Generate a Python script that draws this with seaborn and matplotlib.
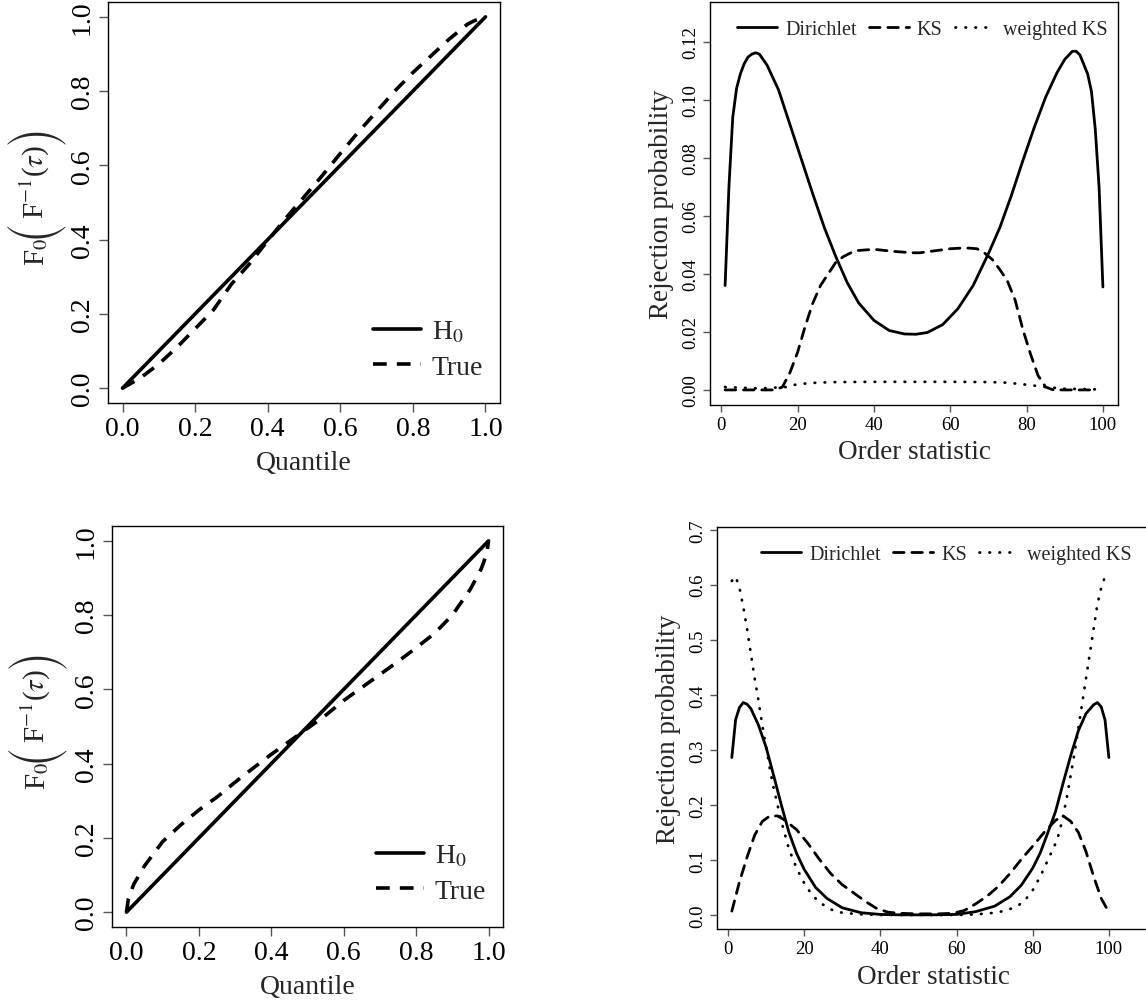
import matplotlib
matplotlib.use('Agg')
import numpy as np
import matplotlib.pyplot as plt
import seaborn as sns
from matplotlib.lines import Line2D

# ---- left column: F0(F^-1(tau)) against the quantile ----
h0_quantile = [0.0, 1.0]
h0_value = [0.0, 1.0]

quantile_top = [0, .05, .1, .15, .2, .25, .3, .35, .4, .45, .5, .55, .6, .65,
                .7, .75, .8, .85, .9, .95, .97, 1.0]
true_top = [0, .028, .065, .11, .16, .21, .28, .335, .397, .458, .515, .572,
            .632, .69, .745, .80, .85, .895, .94, .98, .99, 1.0]

quantile_bottom = [0, .005, .02, .05, .1, .15, .2, .25, .3, .35, .4, .45, .5,
                   .55, .6, .65, .7, .75, .8, .85, .9, .95, .98, .995, 1.0]
true_bottom = [0, .035, .075, .125, .19, .235, .275, .31, .35, .388, .425,
               .46, .495, .53, .57, .605, .64, .675, .712, .75, .8, .87,
               .925, .965, 1.0]

# ---- right column: rejection probability by order statistic ----
dir_x_top = [1, 2, 3, 4, 5, 6, 7, 8, 9, 10, 12, 15, 18, 21, 24, 27, 30, 33, 36,
             40, 44, 48, 51, 54, 58, 62, 66, 70, 73, 76, 79, 82, 85, 88, 90,
             92, 93, 94, 96, 97, 98, 99, 100]
dir_top = [0.036, 0.070, 0.094, 0.104, 0.109, 0.1125, 0.1148, 0.1158, 0.1163,
           0.1158, 0.1120, 0.1035, 0.0915, 0.0795, 0.0675, 0.0560, 0.0460,
           0.0370, 0.0300, 0.0240, 0.0205, 0.0193, 0.0192, 0.0198, 0.0225,
           0.0280, 0.0360, 0.0470, 0.0560, 0.0670, 0.0790, 0.0905, 0.1010,
           0.1095, 0.1140, 0.1168, 0.1168, 0.1155, 0.1090, 0.1030, 0.0900,
           0.0700, 0.0355]

ks_x_top = [1, 5, 10, 14, 16, 18, 20, 22, 24, 26, 28, 30, 32, 35, 40, 45, 50,
            52, 56, 60, 64, 67, 69, 71, 73, 75, 77, 79, 81, 83, 85, 87, 90,
            95, 98]
ks_top = [0, 0, 0, 0, 0.001, 0.006, 0.013, 0.022, 0.030, 0.036, 0.040, 0.044,
          0.046, 0.048, 0.0485, 0.0478, 0.0473, 0.0473, 0.048, 0.0487, 0.049,
          0.0487, 0.0472, 0.045, 0.0415, 0.0375, 0.031, 0.021, 0.0125, 0.005,
          0.001, 0, 0, 0, 0]

wks_x_top = [1, 10, 17, 20, 25, 30, 40, 50, 60, 70, 75, 80, 85, 90, 98]
wks_top = [0.001, 0.0005, 0.001, 0.002, 0.0025, 0.0027, 0.0028, 0.0028,
           0.0028, 0.0027, 0.0025, 0.0018, 0.001, 0.0004, 0.0002]

dir_x_bottom = [1, 2, 3, 4, 5, 6, 8, 10, 12, 14, 16, 18, 20, 23, 26, 30, 35,
                40, 45, 50, 55, 60, 65, 70, 74, 77, 80, 82, 84, 86, 88, 90, 92,
                94, 96, 97, 98, 99, 100]
dir_bottom = [0.286, 0.355, 0.377, 0.386, 0.383, 0.375, 0.345, 0.305, 0.253,
              0.200, 0.150, 0.112, 0.083, 0.050, 0.030, 0.013, 0.004, 0.001,
              0.0003, 0.0002, 0.0003, 0.001, 0.006, 0.016, 0.033, 0.054,
              0.085, 0.113, 0.150, 0.188, 0.240, 0.290, 0.335, 0.366, 0.382,
              0.386, 0.378, 0.354, 0.286]

ks_x_bottom = [1, 3, 5, 7, 9, 11, 13, 15, 18, 21, 24, 27, 30, 33, 36, 39, 42,
               45, 50, 55, 59, 62, 65, 68, 71, 74, 77, 80, 83, 86, 88, 90, 92,
               94, 96, 98, 100]
ks_bottom = [0.007, 0.06, 0.105, 0.145, 0.170, 0.180, 0.180, 0.172, 0.155,
             0.130, 0.101, 0.075, 0.055, 0.040, 0.025, 0.012, 0.005, 0.003,
             0.002, 0.002, 0.003, 0.008, 0.02, 0.034, 0.052, 0.075, 0.101,
             0.125, 0.150, 0.172, 0.180, 0.170, 0.150, 0.115, 0.070, 0.030,
             0.005]

wks_x_bottom = [1, 2, 3, 4, 5, 6, 7, 8, 9, 10, 11, 12, 13, 14, 16, 18, 20, 22,
                24, 27, 30, 35, 40, 50, 60, 65, 70, 73, 76, 78, 80, 82, 84, 86,
                87, 88, 89, 90, 91, 92, 93, 94, 95, 96, 97, 98, 99]
wks_bottom = [0.607, 0.615, 0.595, 0.56, 0.52, 0.475, 0.43, 0.39, 0.345,
              0.305, 0.265, 0.23, 0.20, 0.17, 0.12, 0.085, 0.058, 0.037,
              0.023, 0.01, 0.004, 0.001, 0, 0, 0, 0.001, 0.004, 0.008, 0.016,
              0.027, 0.045, 0.07, 0.1, 0.13, 0.15, 0.18, 0.215, 0.255, 0.295,
              0.34, 0.385, 0.43, 0.475, 0.52, 0.565, 0.595, 0.615]

legend_left = ['H$_0$', 'True']
legend_right = ['Dirichlet', 'KS', 'weighted KS']

sns.set_theme(style='ticks')
plt.rcParams['font.family'] = ['Liberation Serif', 'DejaVu Serif']
plt.rcParams['mathtext.fontset'] = 'stix'

W, H = 1146, 1003
fig = plt.figure(figsize=(W / 100, H / 100), dpi=100)
renderer = fig.canvas.get_renderer()


def px_axes(left, top, right, bottom):
    return fig.add_axes([left / W, 1 - bottom / H, (right - left) / W, (bottom - top) / H])


DASH = (0, (3.8, 2.8))
DOT = (0, (0.2, 3.4))
BIG_PAREN = ['STIXSizeTwoSym', 'Liberation Serif']


def r_look(ax, tick_size, tick_len):
    for s in ax.spines.values():
        s.set_visible(True)
        s.set_color('black')
        s.set_linewidth(1.0)
    ax.tick_params(axis='both', direction='out', length=tick_len, width=1,
                   color='#555555', labelsize=tick_size, pad=3, top=False, right=False,
                   labelcolor='black')
    ax.tick_params(axis='y', labelrotation=90)
    plt.setp(ax.get_yticklabels(), va='center')
    ax.grid(False)


def f0_label(x_base, y_bottom):
    # rotated label F0( F^-1(tau) ) with tall outer parentheses, built piece by piece
    pieces = [('F$_0$', 21, 0, None), ('(', 23, 10, BIG_PAREN),
              ('F$^{-1}$($\\tau$)', 21, 0, None), (')', 23, 10, BIG_PAREN)]
    y = H - y_bottom
    for s, size, dx, fam in pieces:
        kw = {'family': fam} if fam else {}
        t = fig.text((x_base + dx) / W, y / H, s, rotation=90, rotation_mode='anchor',
                     ha='left', va='baseline', fontsize=size, **kw)
        y += t.get_window_extent(renderer).height


def quantile_panel(ax, q, f):
    sns.lineplot(x=h0_quantile, y=h0_value, ax=ax, color='black', lw=2.6,
                 sort=False, errorbar=None)
    sns.lineplot(x=q, y=f, ax=ax, color='black', lw=2.6, linestyle=DASH,
                 sort=False, errorbar=None)
    ax.set_xlim(-0.04, 1.04)
    ax.set_ylim(-0.04, 1.04)
    ticks = [0, 0.2, 0.4, 0.6, 0.8, 1.0]
    ax.set_xticks(ticks, [f'{t:.1f}' for t in ticks])
    ax.set_yticks(ticks, [f'{t:.1f}' for t in ticks])
    r_look(ax, 20, 6.5)
    ax.set_xlabel('Quantile', fontsize=20, labelpad=6)
    ax.set_ylabel('')
    handles = [Line2D([], [], color='black', lw=2.6),
               Line2D([], [], color='black', lw=2.6, linestyle=DASH)]
    ax.legend(handles, legend_left, loc='lower right', frameon=False, fontsize=20,
              handlelength=1.7, handletextpad=0.4, labelspacing=0.35,
              bbox_to_anchor=(0.985, 0.03), borderaxespad=0)


def rejection_panel(ax, series, ylim, yticks, ylabels, leg_anchor, xpad):
    styles = ['-', DASH, DOT]
    for (x, y), ls in zip(series, styles):
        sns.lineplot(x=x, y=y, ax=ax, color='black', lw=2.0, linestyle=ls,
                     sort=False, errorbar=None, dash_capstyle='round')
    ax.set_ylim(*ylim)
    ax.set_xticks([0, 20, 40, 60, 80, 100], ['0', '20', '40', '60', '80', '100'])
    ax.set_yticks(yticks, ylabels)
    r_look(ax, 13.5, 5)
    ax.set_xlabel('Order statistic', fontsize=19.5, labelpad=xpad)
    ax.set_ylabel('Rejection probability', fontsize=19.5, labelpad=6)
    handles = [Line2D([], [], color='black', lw=2.0, linestyle=ls, dash_capstyle='round')
               for ls in styles]
    ax.legend(handles, legend_right, loc='upper center', ncol=3, frameon=False,
              fontsize=14.5, handlelength=2.0, handletextpad=0.4, columnspacing=0.6,
              bbox_to_anchor=leg_anchor, borderaxespad=0)


ax_tl = px_axes(108, 3, 500, 404)
quantile_panel(ax_tl, quantile_top, true_top)
f0_label(44, 266)

ax_bl = px_axes(112, 527, 503, 928)
quantile_panel(ax_bl, quantile_bottom, true_bottom)
f0_label(45, 790)

ax_tr = px_axes(710, 3, 1118, 406)
rejection_panel(ax_tr,
                [(dir_x_top, dir_top), (ks_x_top, ks_top), (wks_x_top, wks_top)],
                (-0.0052, 0.1338),
                [0, 0.02, 0.04, 0.06, 0.08, 0.10, 0.12],
                ['0.00', '0.02', '0.04', '0.06', '0.08', '0.10', '0.12'],
                (0.52, 0.975), 4)
ax_tr.set_xlim(-2.96, 103.96)

ax_br = px_axes(717, 528, 1150, 930)
rejection_panel(ax_br,
                [(dir_x_bottom, dir_bottom), (ks_x_bottom, ks_bottom),
                 (wks_x_bottom, wks_bottom)],
                (-0.0255, 0.705),
                [0, 0.1, 0.2, 0.3, 0.4, 0.5, 0.6, 0.7],
                ['0.0', '0.1', '0.2', '0.3', '0.4', '0.5', '0.6', '0.7'],
                (0.53, 0.975), 5)
ax_br.set_xlim(-2.89, 110.8)

fig.savefig('out.png', dpi=100, facecolor='white')
